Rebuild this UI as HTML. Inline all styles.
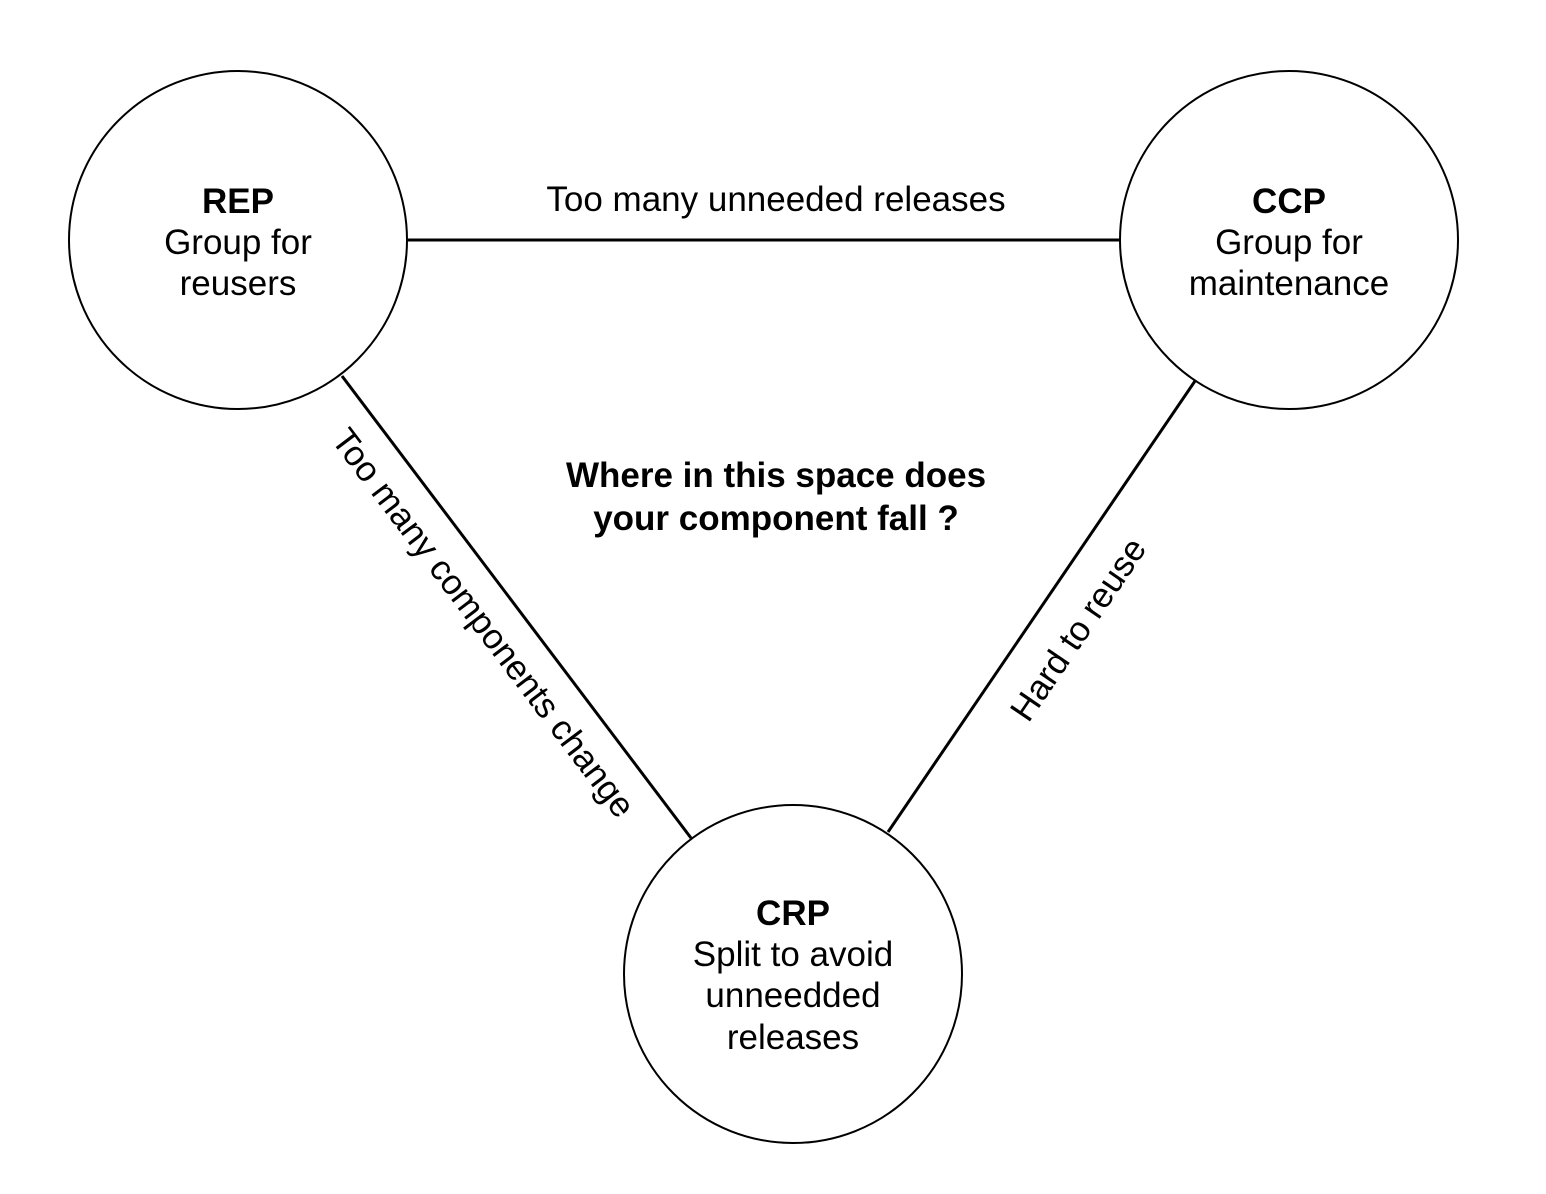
<!DOCTYPE html>
<html><head><meta charset="utf-8"><style>
html,body{margin:0;padding:0;background:#fff;}
svg{display:block;}
text{font-family:"Liberation Sans",Arial,sans-serif;font-size:35px;fill:#000;}
.b{font-weight:bold;}
</style></head><body>
<svg width="1546" height="1194" viewBox="0 0 1546 1194">
<g stroke="#000" stroke-width="3" fill="none">
<line x1="407" y1="240" x2="1120" y2="240"/>
<line x1="342" y1="376" x2="691" y2="838"/>
<line x1="1195" y1="381" x2="888" y2="832"/>
</g>
<g stroke="#000" stroke-width="2" fill="#fff">
<circle cx="238" cy="240" r="169"/>
<circle cx="1289" cy="240" r="169"/>
<circle cx="793" cy="974" r="169"/>
</g>
<g text-anchor="middle">
<text x="238" y="213" class="b">REP</text>
<text x="238" y="254">Group for</text>
<text x="238" y="295">reusers</text>
<text x="1289" y="213" class="b">CCP</text>
<text x="1289" y="254">Group for</text>
<text x="1289" y="295">maintenance</text>
<text x="793" y="925" class="b">CRP</text>
<text x="793" y="966">Split to avoid</text>
<text x="793" y="1007">unneedded</text>
<text x="793" y="1049">releases</text>
<text x="776" y="211">Too many unneeded releases</text>
<text x="776" y="487" class="b">Where in this space does</text>
<text x="776" y="530" class="b">your component fall ?</text>
<text transform="translate(474,630) rotate(52.9)">Too many components change</text>
<text transform="translate(1088,636) rotate(-55.8)">Hard to reuse</text>
</g>
</svg>
</body></html>
